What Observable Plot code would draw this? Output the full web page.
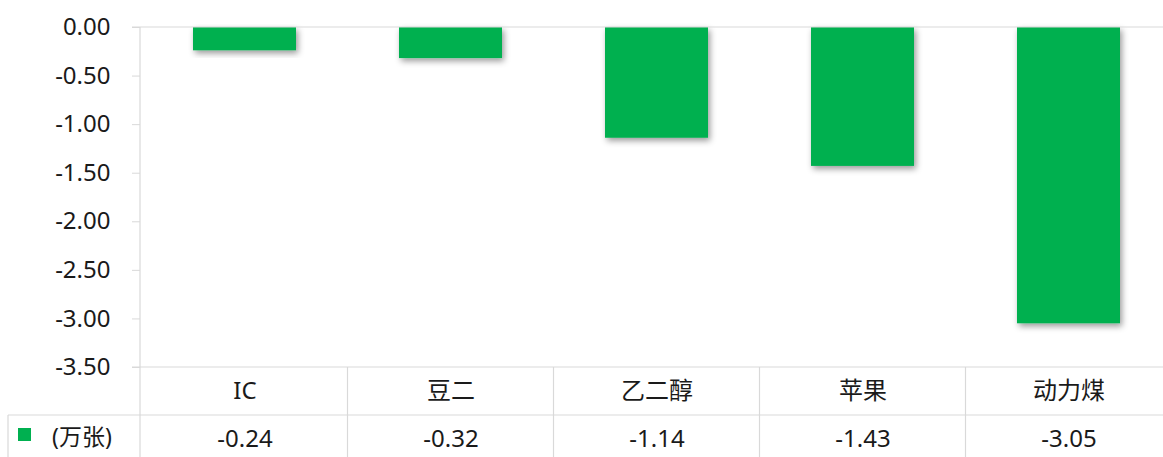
<!DOCTYPE html>
<html><head><meta charset="utf-8">
<script src="https://cdn.jsdelivr.net/npm/d3@7"></script>
<script src="https://cdn.jsdelivr.net/npm/@observablehq/plot@0.6"></script>
<style>
html,body{margin:0;padding:0;background:#fff;}
svg{font-family:"Noto Sans","Noto Sans CJK SC",sans-serif;}
</style>
</head><body>
<div id="chart"></div>
<script>
const categories = ["IC", "豆二", "乙二醇", "苹果", "动力煤"];
const values = [-0.24, -0.32, -1.14, -1.43, -3.05];
const yTicks = [0, -0.5, -1, -1.5, -2, -2.5, -3, -3.5];
const seriesName = "(万张)";
const barColor = "#00B050";
const gridColor = "#d9d9d9";
const textColor = "#1a1a1a";

const data = categories.map((c, i) => ({cat: c, value: values[i]}));

const W = 1163, H = 457;
const chart = Plot.plot({
  width: W, height: H,
  marginTop: 27, marginBottom: 90, marginLeft: 140, marginRight: 0,
  style: {fontSize: "23px", color: textColor, background: "#fff"},
  x: {domain: categories, range: [140, 1172], paddingInner: 0.5, paddingOuter: 0.25, axis: null},
  y: {domain: [-3.5, 0], label: null},
  marks: [
    Plot.axisY(yTicks, {tickFormat: d => d.toFixed(2), tickSize: 8, tickPadding: 22, fontSize: 24, stroke: gridColor, fill: textColor, label: null}),
    Plot.barY(data, {x: "cat", y: "value", fill: barColor}),
    Plot.text(data, {x: "cat", frameAnchor: "bottom", text: "cat", dy: 31, fontSize: 24, fill: textColor}),
    Plot.text(data, {x: "cat", frameAnchor: "bottom", text: d => d.value.toFixed(2), dy: 79, fontSize: 24, fill: textColor})
  ]
});
document.getElementById("chart").appendChild(chart);

const svg = d3.select(chart);

// drop shadow for bars
const defs = svg.insert("defs", ":first-child");
const f = defs.append("filter").attr("id", "shadow").attr("x", "-10%").attr("y", "-10%").attr("width", "130%").attr("height", "140%");
f.append("feDropShadow").attr("dx", 2).attr("dy", 3).attr("stdDeviation", 3).attr("flood-color", "#000").attr("flood-opacity", 0.4);
svg.selectAll("[aria-label='bar'] rect").attr("filter", "url(#shadow)");

const xs = chart.scale("x"), ys = chart.scale("y");
const bw = xs.bandwidth, step = xs.step;
const y0 = ys.apply(0), yb = ys.apply(-3.5);
const left = 140;
const rowMid = yb + 48;
const g = svg.append("g").attr("stroke", gridColor).attr("stroke-width", 1.2);
g.append("line").attr("x1", left - 8).attr("x2", W).attr("y1", y0).attr("y2", y0);
g.append("line").attr("x1", left - 8).attr("x2", W).attr("y1", yb).attr("y2", yb);
g.append("line").attr("x1", 8).attr("x2", W).attr("y1", rowMid).attr("y2", rowMid);
g.append("line").attr("x1", left).attr("x2", left).attr("y1", y0).attr("y2", H);
g.append("line").attr("x1", 8).attr("x2", 8).attr("y1", rowMid).attr("y2", H);
categories.slice(1).forEach(c => {
  const x = xs.apply(c) + bw / 2 - step / 2;
  g.append("line").attr("x1", x).attr("x2", x).attr("y1", yb).attr("y2", H);
});
// legend cell
svg.append("rect").attr("x", 18).attr("y", rowMid + 13).attr("width", 13).attr("height", 13).attr("fill", barColor);
svg.append("text").attr("x", 52).attr("y", rowMid + 23).attr("dy", "0.32em").attr("text-anchor", "start")
  .attr("font-size", 23).attr("fill", textColor).text(seriesName);
</script>
</body></html>
